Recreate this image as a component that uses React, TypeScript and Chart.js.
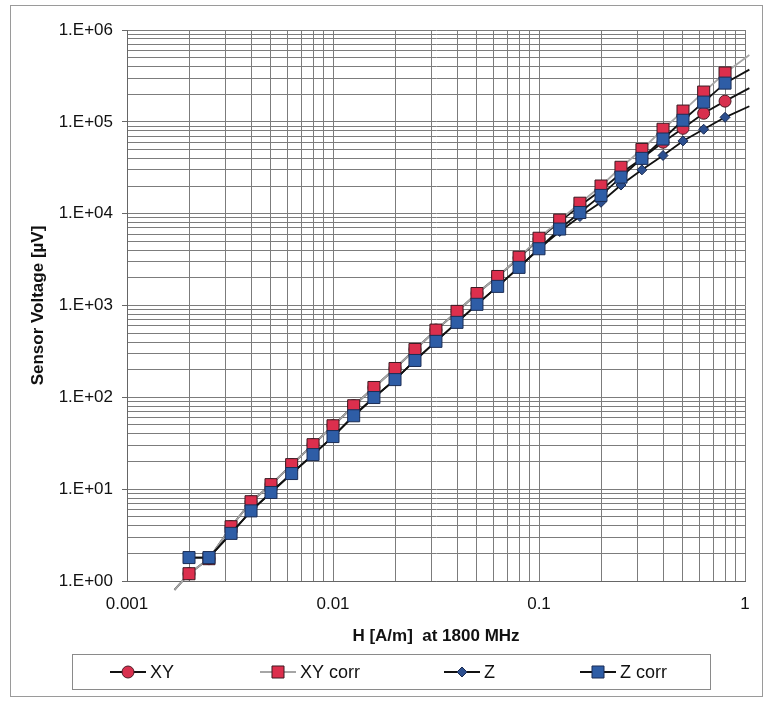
import React, { useEffect, useRef } from 'react';
import { Chart, registerables } from 'chart.js';

Chart.register(...registerables);

// ---- data ----
const H_VALUES = [
  0.002, 0.0025, 0.0032, 0.004, 0.005, 0.0063, 0.008, 0.01, 0.0126, 0.0158,
  0.02, 0.025, 0.0316, 0.04, 0.05, 0.063, 0.08, 0.1, 0.126, 0.158,
  0.2, 0.25, 0.316, 0.4, 0.5, 0.63, 0.8,
];
const XY = [
  1.2, 1.75, 3.9, 7.3, 11.2, 18.5, 30.5, 49, 81, 128,
  206, 332, 540, 860, 1350, 2070, 3300, 5300, 8200, 12200,
  18000, 27500, 40000, 60000, 85000, 124000, 168000,
];
const XY_CORR = [
  1.2, 1.75, 3.9, 7.3, 11.2, 18.5, 30.5, 49, 81, 128,
  206, 332, 540, 863, 1350, 2070, 3350, 5400, 8500, 13000,
  20000, 32000, 50000, 83000, 131000, 211000, 340000,
];
const Z = [
  1.8, 1.8, 3.3, 5.8, 9.2, 14.8, 23.8, 37.4, 63, 99.5,
  156, 252, 407, 655, 1030, 1615, 2600, 4150, 6400, 9300,
  13300, 20500, 30000, 43000, 62000, 83000, 112000,
];
const Z_CORR = [
  1.8, 1.8, 3.3, 5.8, 9.2, 14.8, 23.8, 37.4, 63, 99.5,
  156, 252, 407, 655, 1030, 1615, 2600, 4150, 6800, 10300,
  15800, 25000, 40000, 65000, 104000, 164000, 264000,
];
// where the drawn lines run on past the markers
const H_START = 0.0017;
const XY_START = 0.8;
const H_END = 1.05;
const XY_END = 233000;
const XY_CORR_END = 533000;
const Z_END = 148000;
const Z_CORR_END = 370000;

const SERIES_LABELS = ['XY', 'XY corr', 'Z', 'Z corr'];

const X_MAJOR = [0.001, 0.01, 0.1, 1];
const X_TICK_LABELS = ['0.001', '0.01', '0.1', '1'];
const Y_MAJOR = [1, 10, 100, 1000, 10000, 100000, 1000000];
const Y_TICK_LABELS = ['1.E+00', '1.E+01', '1.E+02', '1.E+03', '1.E+04', '1.E+05', '1.E+06'];
const MINOR_STEPS = [2, 3, 4, 5, 6, 7, 8, 9];

const X_TITLE = 'H [A/m]  at 1800 MHz';
const Y_TITLE = 'Sensor Voltage [\u00b5V]';

// ---- helpers ----
type Pt = { x: number; y: number; m: boolean };

function series(vals: number[], end: number, start?: number): Pt[] {
  const pts: Pt[] = [];
  if (start !== undefined) pts.push({ x: H_START, y: start, m: false });
  H_VALUES.forEach((h, i) => pts.push({ x: h, y: vals[i], m: true }));
  pts.push({ x: H_END, y: end, m: false });
  return pts;
}

function buildTicks(majors: number[]) {
  const t: { value: number; major: boolean }[] = [];
  majors.forEach((v, i) => {
    t.push({ value: v, major: true });
    if (i < majors.length - 1) MINOR_STEPS.forEach((s) => t.push({ value: v * s, major: false }));
  });
  return t;
}

function majorIndex(majors: number[], v: number) {
  return majors.findIndex((m) => Math.abs(Math.log10(m) - Math.log10(v)) < 1e-6);
}

const FONT = "'Liberation Sans', Arial, sans-serif";
const GRID = '#7c7c7c';

const STYLES = [
  { style: 'circle', radius: 6, bg: '#d8304e', border: '#4a1a24', line: '#111111' },
  { style: 'rect', radius: 8.5, bg: '#dc2f4d', border: '#3b1a22', line: '#a6a6a6' },
  { style: 'rectRot', radius: 5, bg: '#2c4f8f', border: '#1a2a50', line: '#111111' },
  { style: 'rect', radius: 8.5, bg: '#2e5da6', border: '#1b2d55', line: '#111111' },
];

// legend layout (pixel positions of text starts)
const LEGEND_TEXT_X = [150, 300, 484, 620];

function drawMarker(ctx: CanvasRenderingContext2D, style: string, x: number, y: number, r: number, bg: string, border: string) {
  ctx.save();
  ctx.fillStyle = bg;
  ctx.strokeStyle = border;
  ctx.lineWidth = 1;
  ctx.beginPath();
  if (style === 'circle') {
    ctx.arc(x, y, r, 0, Math.PI * 2);
  } else if (style === 'rect') {
    const s = Math.SQRT1_2 * r;
    ctx.rect(x - s, y - s, 2 * s, 2 * s);
  } else {
    ctx.moveTo(x, y - r);
    ctx.lineTo(x + r, y);
    ctx.lineTo(x, y + r);
    ctx.lineTo(x - r, y);
    ctx.closePath();
  }
  ctx.fill();
  ctx.stroke();
  ctx.restore();
}

const framePlugin = {
  id: 'frameAndLegend',
  afterDraw(chart: any) {
    const ctx: CanvasRenderingContext2D = chart.ctx;
    ctx.save();
    // outer frame
    ctx.strokeStyle = '#9a9a9a';
    ctx.lineWidth = 1;
    ctx.strokeRect(10.5, 5.5, 752, 691);
    // legend box
    ctx.strokeStyle = '#8a8a8a';
    ctx.strokeRect(72.5, 654.5, 638, 35);
    const cy = 672;
    ctx.font = `18px ${FONT}`;
    ctx.textBaseline = 'middle';
    ctx.textAlign = 'left';
    SERIES_LABELS.forEach((label, i) => {
      const st = STYLES[i];
      const tx = LEGEND_TEXT_X[i];
      const x0 = tx - 40;
      const x1 = tx - 4;
      ctx.strokeStyle = st.line;
      ctx.lineWidth = 1.8;
      ctx.beginPath();
      ctx.moveTo(x0, cy);
      ctx.lineTo(x1, cy);
      ctx.stroke();
      drawMarker(ctx, st.style, (x0 + x1) / 2, cy, st.radius, st.bg, st.border);
      ctx.fillStyle = '#111111';
      ctx.fillText(label, tx, cy + 1);
    });
    ctx.restore();
  },
};

export default function App() {
  const ref = useRef<HTMLCanvasElement | null>(null);

  useEffect(() => {
    if (!ref.current) return;
    const values = [XY, XY_CORR, Z, Z_CORR];
    const ends = [XY_END, XY_CORR_END, Z_END, Z_CORR_END];
    const starts = [XY_START, XY_START, undefined, undefined];
    const orders = [4, 3, 2, 1];

    const datasets = values.map((vals, i) => {
      const st = STYLES[i];
      return {
        label: SERIES_LABELS[i],
        data: series(vals, ends[i], starts[i]),
        borderColor: st.line,
        borderWidth: 1.8,
        backgroundColor: st.bg,
        pointStyle: st.style,
        pointBackgroundColor: st.bg,
        pointBorderColor: st.border,
        pointBorderWidth: 1,
        pointRadius: (c: any) => (c.raw && c.raw.m ? st.radius : 0),
        pointHoverRadius: (c: any) => (c.raw && c.raw.m ? st.radius : 0),
        tension: 0,
        fill: false,
        order: orders[i],
        clip: { left: 0, top: 0, right: 6, bottom: 12 },
      };
    });

    const chart = new Chart(ref.current, {
      type: 'line',
      data: { datasets: datasets as any },
      plugins: [framePlugin],
      options: {
        animation: false,
        responsive: false,
        devicePixelRatio: 1,
        layout: { padding: { left: 0, right: 21, top: 30, bottom: 51 } },
        plugins: {
          legend: { display: false },
          tooltip: { enabled: false },
          title: { display: false },
        },
        scales: {
          x: {
            type: 'logarithmic',
            min: 0.001,
            max: 1,
            afterBuildTicks: (scale: any) => {
              scale.ticks = buildTicks(X_MAJOR);
            },
            afterFit: (scale: any) => {
              scale.height = 70;
            },
            ticks: {
              autoSkip: false,
              maxRotation: 0,
              padding: 13,
              color: '#111111',
              font: { family: FONT, size: 17 },
              callback: (v: any) => {
                const k = majorIndex(X_MAJOR, Number(v));
                return k >= 0 ? X_TICK_LABELS[k] : '';
              },
            },
            grid: { color: GRID, lineWidth: 1, drawTicks: false },
            border: { display: true, color: '#666666', width: 1 },
            title: {
              display: true,
              text: X_TITLE,
              color: '#111111',
              font: { family: FONT, size: 17, weight: 'bold' },
              padding: { top: 0, bottom: 4 },
            },
          },
          y: {
            type: 'logarithmic',
            min: 1,
            max: 1000000,
            afterBuildTicks: (scale: any) => {
              scale.ticks = buildTicks(Y_MAJOR);
            },
            afterFit: (scale: any) => {
              scale.width = 127;
            },
            ticks: {
              autoSkip: false,
              padding: 9,
              color: '#111111',
              font: { family: FONT, size: 17 },
              callback: (v: any) => {
                const k = majorIndex(Y_MAJOR, Number(v));
                return k >= 0 ? Y_TICK_LABELS[k] : '';
              },
            },
            grid: {
              color: GRID,
              lineWidth: 1,
              drawTicks: true,
              tickLength: 5,
              tickColor: (c: any) =>
                c.tick && majorIndex(Y_MAJOR, c.tick.value) >= 0 ? '#666666' : 'rgba(0,0,0,0)',
            },
            border: { display: true, color: '#666666', width: 1 },
            title: {
              display: true,
              text: Y_TITLE,
              color: '#111111',
              font: { family: FONT, size: 17, weight: 'bold' },
              padding: { top: 28, bottom: 0 },
            },
          },
        },
      } as any,
    });

    return () => chart.destroy();
  }, []);

  return (
    <div style={{ position: 'absolute', left: 0, top: 0, width: 766, height: 702, background: '#ffffff' }}>
      <canvas ref={ref} width={766} height={702} style={{ display: 'block', width: 766, height: 702 }} />
    </div>
  );
}
